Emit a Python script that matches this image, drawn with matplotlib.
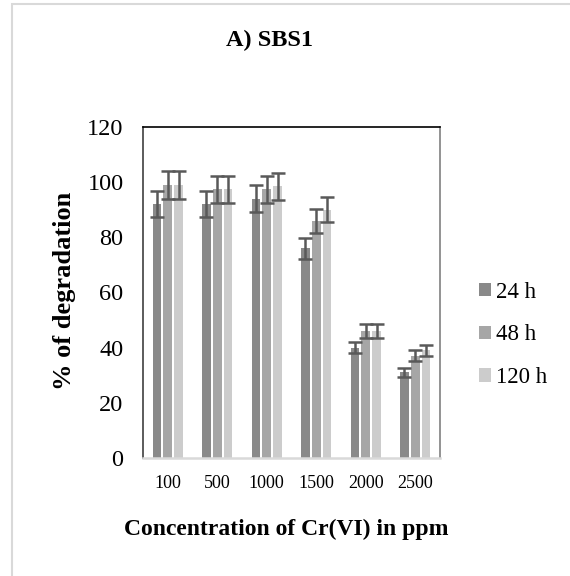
import numpy as np
import matplotlib
matplotlib.use('Agg')
import matplotlib.pyplot as plt
from matplotlib.patches import Rectangle

plt.rcParams['font.family'] = ['Liberation Serif', 'DejaVu Serif']

# 数据
concentrations = ['100', '500', '1000', '1500', '2000', '2500']
series_names = ['24 h', '48 h', '120 h']
deg_24h = [92, 92, 94, 76, 40, 31]
deg_48h = [99, 97.5, 97.5, 86, 46, 37]
deg_120h = [99, 97.5, 98.5, 90, 46, 39]
err_24h = [4.7, 4.7, 4.8, 3.9, 2.0, 1.7]
err_48h = [5.0, 4.9, 4.9, 4.4, 2.4, 2.0]
err_120h = [5.0, 4.9, 4.9, 4.6, 2.4, 2.0]
yticks = [0, 20, 40, 60, 80, 100, 120]

colors = ['#898989', '#a6a6a6', '#cccccc']

fig = plt.figure(figsize=(5.7, 5.76), dpi=100)
ax = fig.add_axes([0.2509, 0.2049, 0.521, 0.5747])

# 外框
fig.patches.append(Rectangle((12/570, -0.1), 1.2, 1.1 - 4/576, transform=fig.transFigure,
                             fill=False, edgecolor='#d9d9d9', linewidth=1.5))

x = np.arange(len(concentrations))
pitch = 0.22
width = 0.175
all_vals = [deg_24h, deg_48h, deg_120h]
all_errs = [err_24h, err_48h, err_120h]
for i, (vals, errs) in enumerate(zip(all_vals, all_errs)):
    ax.bar(x + (i - 1) * pitch, vals, width=width, color=colors[i], label=series_names[i],
           edgecolor='none', zorder=2)
    ax.errorbar(x + (i - 1) * pitch, vals, yerr=errs, fmt='none', ecolor='#595959',
                elinewidth=1.8, capsize=5, capthick=1.8, zorder=3)

ax.set_xlim(-0.5, len(concentrations) - 0.5)
ax.set_ylim(0, 120)
ax.set_yticks(yticks)
ax.set_xticks(x)
ax.set_xticklabels(concentrations)
ax.tick_params(axis='y', length=0, labelsize=17.5, pad=14)
ax.tick_params(axis='x', length=0, labelsize=13, pad=12)

ax.spines['top'].set_color('black')
ax.spines['top'].set_linewidth(1.2)
ax.spines['left'].set_color('#404040')
ax.spines['left'].set_linewidth(1.2)
ax.spines['right'].set_color('#808080')
ax.spines['right'].set_linewidth(1.2)
ax.spines['bottom'].set_color('#d9d9d9')
ax.spines['bottom'].set_linewidth(1.8)

fig.text(270/570, 1 - 40/576, 'A) SBS1', ha='center', va='center', fontsize=17.5, fontweight='bold')
fig.text(286/570, 1 - 529/576, 'Concentration of Cr(VI) in ppm', ha='center', va='center',
         fontsize=17, fontweight='bold')
fig.text(64/570, 1 - 291/576, '% of degradation', ha='center', va='center', rotation=90,
         fontsize=19, fontweight='bold')

leg = fig.legend(loc='center left', bbox_to_anchor=(479/570, 1 - 335/576), frameon=False,
                 fontsize=16.5, handlelength=0.52, handleheight=0.52, handletextpad=0.22,
                 labelspacing=0.95, borderpad=0, borderaxespad=0)

fig.savefig('out.png', dpi=100, facecolor='white')
